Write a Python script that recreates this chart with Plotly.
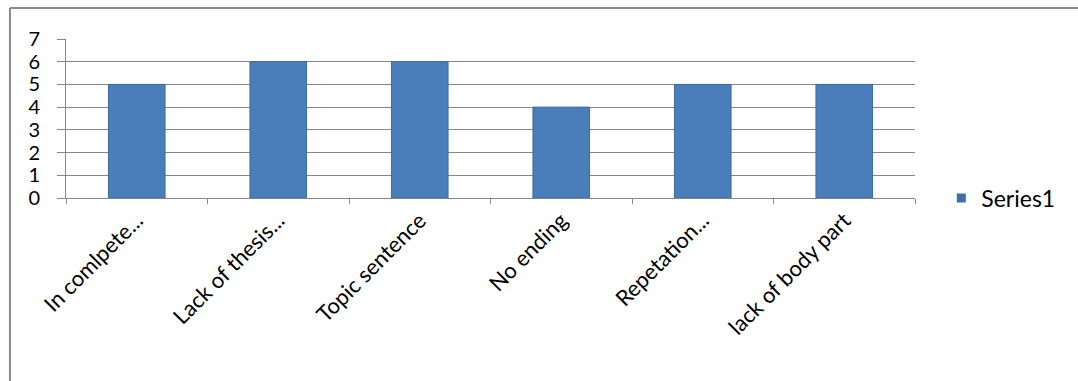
import plotly.graph_objects as go

categories = ["In comlpete...", "Lack of thesis...", "Topic sentence", "No ending", "Repetation...", "lack of body part"]
values = [5, 6, 6, 4, 5, 5]
y_ticks = [0, 1, 2, 3, 4, 5, 6, 7]
series_name = "Series1"

FONT = "Lato, Open Sans, sans-serif"
BAR = "#4a7ebb"

fig = go.Figure()
fig.add_trace(go.Bar(
    x=categories, y=values, name=series_name,
    marker=dict(color=BAR, line=dict(color="#3c6aa3", width=1)),
    showlegend=False,
))
# legend-only entry with a small square symbol
fig.add_trace(go.Scatter(
    x=[None], y=[None], mode="markers", name=series_name,
    marker=dict(symbol="square", size=9, color="#3f6fa8"),
    showlegend=True,
))

fig.update_layout(
    width=1078, height=381,
    margin=dict(l=66, r=163, t=39, b=183),
    paper_bgcolor="white", plot_bgcolor="white",
    bargap=0.6,
    font=dict(family=FONT, color="#000000"),
    legend=dict(x=1.031, y=0.0, xanchor="left", yanchor="middle",
                font=dict(size=23, family=FONT), itemwidth=30,
                bgcolor="rgba(0,0,0,0)"),
    shapes=[
        dict(type="line", xref="paper", yref="paper",
             x0=-0.066, x1=-0.066, y0=-1.16, y1=1.195,
             line=dict(color="#8a8a8a", width=2)),
        dict(type="line", xref="paper", yref="paper",
             x0=-0.066, x1=1.2, y0=1.195, y1=1.195,
             line=dict(color="#8a8a8a", width=2)),
    ],
)
fig.update_xaxes(
    type="category", showline=True, linecolor="#868686", linewidth=1,
    ticks="outside", tickson="boundaries", ticklen=5, tickcolor="#868686",
    tickangle=-45, tickfont=dict(size=22, family=FONT), showgrid=False,
)
fig.update_yaxes(
    range=[0, 7], tickvals=y_ticks, showline=True, linecolor="#868686", linewidth=1,
    ticks="outside", ticklen=8, tickcolor="#868686",
    showgrid=True, gridcolor="#868686", gridwidth=1,
    tickfont=dict(size=20, family=FONT), zeroline=False,
    ticklabelstandoff=13,
)

fig.write_html("out.html")
